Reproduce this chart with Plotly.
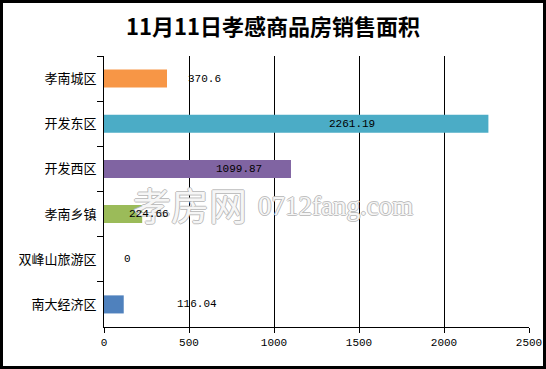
import plotly.graph_objects as go

categories = ["孝南城区", "开发东区", "开发西区", "孝南乡镇", "双峰山旅游区", "南大经济区"]
values = [370.6, 2261.19, 1099.87, 224.66, 0, 116.04]
value_labels = ["370.6", "2261.19", "1099.87", "224.66", "0", "116.04"]
colors = ["#F79646", "#4BACC6", "#8064A2", "#9BBB59", "#4F81BD", "#4F81BD"]
label_x = [594, 1459, 794, 265, 141, 547]
x_ticks = [0, 500, 1000, 1500, 2000, 2500]

W, H = 546, 369
L, R, T, B = 104, 17, 56, 42
pw, ph = W - L - R, H - T - B

fig = go.Figure()
fig.add_trace(go.Bar(
    y=categories, x=values, orientation="h",
    marker=dict(color=colors, line=dict(width=0)),
    hoverinfo="x+y",
))

outline = "1px 0 #b8b8b8, -1px 0 #b8b8b8, 0 1px #b8b8b8, 0 -1px #b8b8b8"
# watermark
fig.add_annotation(xref="paper", yref="paper",
                   x=(131 - L) / pw, y=(327 - 204) / ph,
                   text="孝房网", showarrow=False, xanchor="left", yanchor="middle",
                   font=dict(family="Noto Sans CJK SC", size=38, color="rgba(255,255,255,0.9)",
                             shadow=outline))
fig.add_annotation(xref="paper", yref="paper",
                   x=(256 - L) / pw, y=(327 - 206) / ph,
                   text="0712fang.com", showarrow=False, xanchor="left", yanchor="middle",
                   font=dict(family="Liberation Serif, DejaVu Serif", size=27, color="rgba(255,255,255,0.9)",
                             shadow=outline))

for c, lx, t in zip(categories, label_x, value_labels):
    fig.add_annotation(x=lx, y=c, text=t, showarrow=False,
                       font=dict(family="Liberation Mono, DejaVu Sans Mono", size=11, color="#000"),
                       xanchor="center", yanchor="middle")

# outer border
fig.add_shape(type="rect", xref="paper", yref="paper", layer="above",
              x0=(1.5 - L) / pw, x1=(W - 1.5 - L) / pw,
              y0=(327 - (H - 1.5)) / ph, y1=(327 - 1.5) / ph,
              line=dict(color="#000", width=3), fillcolor="rgba(0,0,0,0)")

fig.update_layout(
    width=W, height=H, autosize=False,
    margin=dict(l=L, r=R, t=T, b=B, autoexpand=False),
    paper_bgcolor="#fff", plot_bgcolor="#fff",
    bargap=0.6,
    showlegend=False,
    title=dict(text="<b>11月11日孝感商品房销售面积</b>", x=0.5, xanchor="center",
               y=1 - 27 / H, yanchor="middle",
               font=dict(family="Noto Sans CJK SC", size=22, color="#000")),
    font=dict(family="Noto Sans CJK SC", size=12, color="#000"),
)
fig.update_xaxes(range=[0, 2500], tickvals=x_ticks, ticktext=[str(v) for v in x_ticks],
                 showgrid=True, gridcolor="#000", gridwidth=1, automargin=False,
                 zeroline=False, showline=True, linecolor="#000", linewidth=1,
                 ticks="outside", ticklen=5, tickcolor="#000",
                 tickfont=dict(family="Liberation Mono, DejaVu Sans Mono", size=11))
fig.update_yaxes(autorange="reversed", showline=True, linecolor="#000", linewidth=1,
                 ticks="outside", ticklen=6, tickcolor="#000", tickson="boundaries",
                 showgrid=False, automargin=False, tickfont=dict(family="Noto Sans CJK SC", size=13),
                 ticklabelstandoff=4)

fig.write_html("out.html", config={"displayModeBar": False, "responsive": False},
               post_script="document.body.style.margin='0';document.body.style.overflow='hidden';")
